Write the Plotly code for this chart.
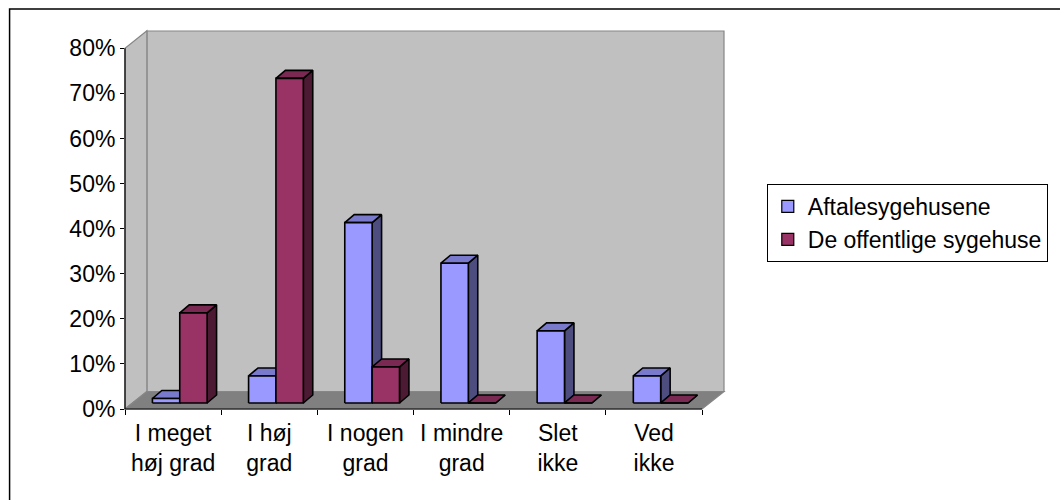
import plotly.graph_objects as go

# ---------------- data ----------------
categories = ["I meget<br>høj grad", "I høj<br>grad", "I nogen<br>grad",
              "I mindre<br>grad", "Slet<br>ikke", "Ved<br>ikke"]
series_names = ["Aftalesygehusene", "De offentlige sygehuse"]
aftale = [0.01, 0.06, 0.40, 0.31, 0.16, 0.06]
offentlige = [0.20, 0.72, 0.08, 0.0, 0.0, 0.0]
y_ticks = [0, 0.1, 0.2, 0.3, 0.4, 0.5, 0.6, 0.7, 0.8]

# ---------------- layout geometry ----------------
W, H = 1060, 500
ML, MR, MT, MB = 125, 333, 31, 91
PW, PH = W - ML - MR, H - MT - MB
PXC = 580 / 6.0          # px per category (front axis)
PYU = 360.7 / 0.8        # px per unit of y (front axis)
X0 = -0.5
X1 = X0 + PW / PXC
YMAX = PH / PYU
DEPTH_X, DEPTH_Y = 22.0 / PXC, 17.5 / PYU      # wall depth
BAR_DX, BAR_DY = 9.5 / PXC, 8.0 / PYU          # bar depth
BAR_W = 27.5 / PXC
PAIR_SHIFT = 6.7 / PXC
BASE = 6.0 / PYU

FONT = "Liberation Sans, Arial, sans-serif"
FS = 23

face_colors = [
    ("#9999FF", "#7A7ACC", "#4D4D80"),   # front, top, side
    ("#993366", "#7A2952", "#4D1A33"),
]


def px(x):
    return (x - X0) / (X1 - X0)


def py(y):
    return y / YMAX


def path(points):
    return "M " + " L ".join(f"{px(a):.5f},{py(b):.5f}" for a, b in points) + " Z"


fig = go.Figure()

# invisible trace to set up category axis
fig.add_trace(go.Scatter(x=categories, y=[0] * len(categories), mode="markers",
                         marker=dict(opacity=0), showlegend=False, hoverinfo="skip",
                         xaxis="x", yaxis="y"))

# legend entries
for name, (front, _, _) in zip(series_names, face_colors):
    fig.add_trace(go.Bar(x=categories, y=[None] * len(categories), name=name,
                         marker=dict(color=front, line=dict(color="black", width=1.2)),
                         legendgroup=name, xaxis="x", yaxis="y"))

# bars as 3D faces
values = [aftale, offentlige]
for k in range(len(categories)):
    for s, vals in enumerate(values):
        v = vals[k]
        front, top, side = face_colors[s]
        xl = k + PAIR_SHIFT + (s - 1) * BAR_W
        xr = xl + BAR_W
        yb, yt = BASE, BASE + v
        faces = [
            (side, [(xr, yb), (xr + BAR_DX, yb + BAR_DY), (xr + BAR_DX, yt + BAR_DY), (xr, yt)]),
            (top, [(xl, yt), (xl + BAR_DX, yt + BAR_DY), (xr + BAR_DX, yt + BAR_DY), (xr, yt)]),
            (front, [(xl, yb), (xr, yb), (xr, yt), (xl, yt)]),
        ]
        for col, pts in faces:
            xs = [p[0] for p in pts] + [pts[0][0]]
            ys = [p[1] for p in pts] + [pts[0][1]]
            fig.add_trace(go.Scatter(x=xs, y=ys, mode="lines", fill="toself",
                                     fillcolor=col, line=dict(color="black", width=1.6),
                                     showlegend=False, hoverinfo="skip",
                                     xaxis="x2", yaxis="y"))

# walls & floor
front_right = X0 + 6
shapes = []
wall_line = dict(color="#868686", width=1.2)
shapes.append(dict(type="path", xref="paper", yref="paper", layer="below",
                   path=path([(X0 + DEPTH_X, DEPTH_Y), (X1, DEPTH_Y), (X1, YMAX), (X0 + DEPTH_X, YMAX)]),
                   fillcolor="#C0C0C0", line=wall_line))
shapes.append(dict(type="path", xref="paper", yref="paper", layer="below",
                   path=path([(X0, 0), (X0, 0.8), (X0 + DEPTH_X, 0.8 + DEPTH_Y), (X0 + DEPTH_X, DEPTH_Y)]),
                   fillcolor="#C0C0C0", line=wall_line))
shapes.append(dict(type="path", xref="paper", yref="paper", layer="below",
                   path=path([(X0, 0), (front_right, 0), (front_right + DEPTH_X, DEPTH_Y), (X0 + DEPTH_X, DEPTH_Y)]),
                   fillcolor="#808080", line=wall_line))
# axis lines
shapes.append(dict(type="line", xref="paper", yref="paper", x0=px(X0), x1=px(X0), y0=py(0), y1=py(0.8),
                   line=dict(color="black", width=1.2)))
shapes.append(dict(type="line", xref="paper", yref="paper", x0=px(X0), x1=px(front_right), y0=py(0), y1=py(0),
                   line=dict(color="black", width=1.2)))
# outer frame (top & left edges)
fx = (9 - ML) / PW
fy = (H - MB - 9) / PH
shapes.append(dict(type="path", xref="paper", yref="paper",
                   path=f"M {fx:.5f},{-MB / PH - 0.1:.5f} L {fx:.5f},{fy:.5f} L {(W - ML) / PW + 0.1:.5f},{fy:.5f}",
                   line=dict(color="black", width=1.5)))

fig.update_layout(
    width=W, height=H,
    margin=dict(l=ML, r=MR, t=MT, b=MB, pad=0),
    paper_bgcolor="white", plot_bgcolor="rgba(0,0,0,0)",
    font=dict(family=FONT, size=FS, color="black"),
    shapes=shapes,
    showlegend=True,
    barmode="group",
    xaxis=dict(type="category", range=[X0, X1], tickson="boundaries", ticks="outside",
               ticklen=5, tickcolor="black", tickwidth=1.2, showline=False, showgrid=False,
               zeroline=False, tickfont=dict(size=FS), ticklabelstandoff=8, fixedrange=True),
    xaxis2=dict(overlaying="x", range=[X0, X1], visible=False, anchor="y", fixedrange=True),
    yaxis=dict(range=[0, YMAX], tickvals=y_ticks, tickformat=".0%", ticks="outside",
               ticklen=4, tickcolor="black", tickwidth=1.2, showline=False, showgrid=False,
               zeroline=False, tickfont=dict(size=FS), ticklabelstandoff=0, fixedrange=True),
    legend=dict(x=(770 - ML) / PW, y=(H - MB - 184) / PH, xanchor="left", yanchor="top",
                bgcolor="white", bordercolor="black", borderwidth=1,
                font=dict(size=FS), tracegroupgap=7, traceorder="normal"),
)

fig.write_html("out.html")
